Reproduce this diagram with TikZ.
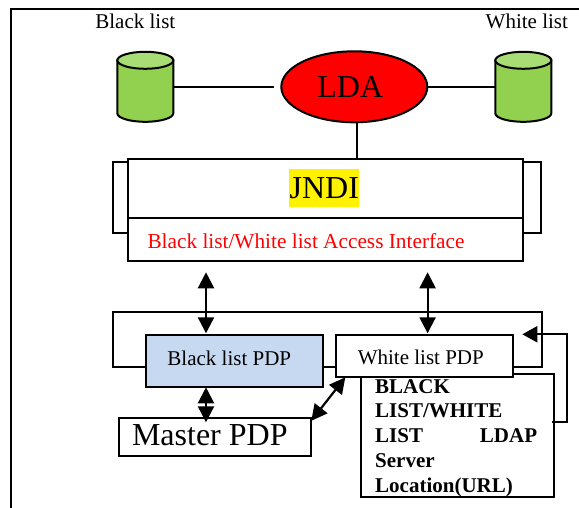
\documentclass[tikz,border=0pt]{standalone}
\usepackage{fontspec}
\setmainfont{Liberation Serif}
\usetikzlibrary{arrows.meta,shapes.geometric}
\definecolor{cylbody}{HTML}{92D050}
\definecolor{cyltop}{HTML}{A8DC74}
\definecolor{pdpblue}{HTML}{C6D9F1}
\newcommand{\fs}[1]{\fontsize{#1}{#1}\selectfont}
\newcommand{\dbshape}[1]{%
  \begin{scope}[shift={(#1.center)}]
    \filldraw[lw,fill=cylbody] (-28,-26.5) -- (-28,26.5) .. controls (-28,31.2) and (-15.5,35) .. (0,35) .. controls (15.5,35) and (28,31.2) .. (28,26.5) -- (28,-26.5) -- cycle;
    \filldraw[lw,fill=cyltop] (0,-26.5) ellipse [x radius=28,y radius=8.5];
  \end{scope}}
\tikzset{
  lw/.style={line width=2pt,draw=black},
  box/.style={lw,rectangle,inner sep=0pt,anchor=north west,fill=white},
  db/.style={rectangle,minimum width=56pt,minimum height=70pt,inner sep=0pt},
  lbl/.style={inner sep=0pt,font=\fs{21}},
  boldl/.style={inner sep=0pt,anchor=base west,font=\fs{21}\bfseries},
  dbl/.style={line width=2.2pt,{Triangle[length=16pt,width=16pt]}-{Triangle[length=16pt,width=16pt]}}
}
\begin{document}
\begin{tikzpicture}[x=1pt,y=-1pt]
\useasboundingbox (0,0) rectangle (579,508);
\fill[white] (0,0) rectangle (579,508);
\begin{scope}[shift={(-0.7,-0.7)}]
\draw[lw] (12,509) -- (12,9.5) -- (580,9.5);
% labels
\node[lbl] (bl) at (136,22) {Black list};
\node[lbl] (wl) at (527.5,22) {White list};
% databases and LDA
\node[db] (dbl1) at (146,87.5) {};
\node[db] (dbl2) at (524,87.5) {};
\node[lw,ellipse,fill=red,minimum width=146pt,minimum height=71pt,inner sep=0pt] (lda) at (355,87.5) {};
\node[inner sep=0pt,font=\fs{32}] (ldat) at (351,88) {LDA};
\coordinate (ldaw) at (275,87.5);
\draw[lw] (dbl1.east |- lda) -- (ldaw);
\draw[lw] (lda.east) -- (dbl2.west |- lda);
\dbshape{dbl1}
\dbshape{dbl2}
% JNDI
\node[box,minimum width=428pt,minimum height=71pt] (jback) at (112.5,162) {};
\node[box,minimum width=394.5pt,minimum height=102pt] (jbox) at (127.7,159) {};
\coordinate (jdl) at (127.7,218.7);
\coordinate (jdr) at (522.2,218.7);
\draw[lw] (jdl) -- (jdr);
\node[inner sep=0pt,fill=yellow,minimum width=70pt,minimum height=38pt,font=\fs{32}] (jndi) at (325,189) {JNDI};
\node[lbl,text=red,anchor=west,font=\fs{21.3}] (acc) at (148,242) {Black list/White list Access Interface};
\coordinate (ldab) at (358,122.5);
\draw[lw] (ldab) -- (ldab |- jbox.north);
% PDP
\node[box,fill=none,minimum width=428.5pt,minimum height=54.5pt] (pback) at (112.7,311.7) {};
\node[box,minimum width=192.5pt,minimum height=123pt] (ldapb) at (360.7,374) {};
\node[box,fill=pdpblue,minimum width=176.7pt,minimum height=51.7pt] (bpdp) at (146,335) {};
\node[box,minimum width=176.7pt,minimum height=41.7pt] (wpdp) at (336,335) {};
\node[box,minimum width=192pt,minimum height=38pt] (mpdp) at (119,417.7) {};
\node[lbl] (bpt) at (230,359) {Black list PDP};
\node[lbl] (wpt) at (421.5,358) {White list PDP};
\node[inner sep=0pt,font=\fs{32}] (mpt) at (210.5,436) {Master PDP};
% LDAP text
\node[boldl] (t1) at (375.7,394) {BLACK};
\node[boldl] (t2) at (375.7,418.5) {LIST/WHITE};
\node[boldl] (t3) at (375.7,443) {LIST};
\node[boldl,anchor=base east] (t3b) at (538,443) {LDAP};
\node[boldl] (t4) at (375.7,468) {Server};
\node[boldl] (t5) at (375.7,493) {Location(URL)};
% arrows
\coordinate (a1t) at (206.7,273);
\coordinate (a1b) at (206.7,334);
\coordinate (a2t) at (428.3,273);
\coordinate (a2b) at (428.3,334);
\draw[dbl] (a1t) -- (a1b);
\draw[dbl] (a2t) -- (a2b);
\coordinate (a3t) at (206.7,388);
\coordinate (a3b) at (206.7,423);
\draw[dbl] (a3t) -- (a3b);
\coordinate (d1) at (312,421.5);
\coordinate (d2) at (346,378);
\draw[dbl] (d1) -- (d2);
\coordinate (fbs) at (553,422.7);
\coordinate (fbe) at (523,335);
\draw[line width=2pt,-{Triangle[length=15pt,width=16pt]}] (fbs) -- (568,422.7) -- (568,335) -- (fbe);
\end{scope}
\end{tikzpicture}
\end{document}
